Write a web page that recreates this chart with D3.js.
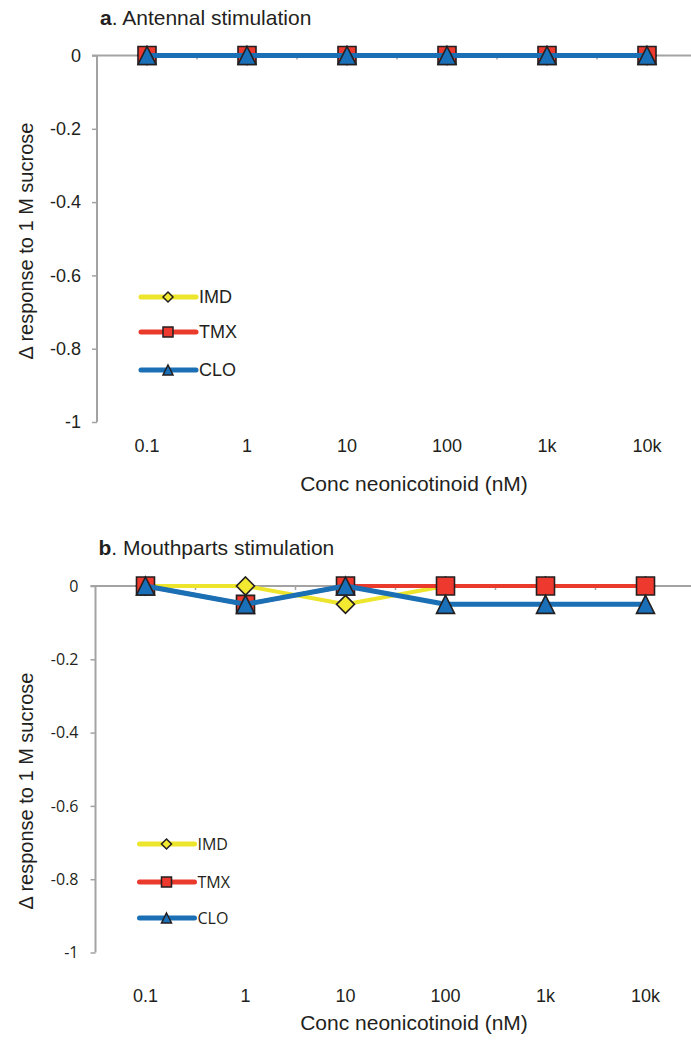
<!DOCTYPE html>
<html>
<head>
<meta charset="utf-8">
<script src="https://cdn.jsdelivr.net/npm/d3@7"></script>
<style>
  body { margin: 0; background: #fff; }
  svg { display: block; }
</style>
</head>
<body>
<svg id="chart" width="691" height="1044"></svg>
<script>
// Two panels: change in response to 1 M sucrose after neonicotinoid exposure.

const concentrations = ["0.1", "1", "10", "100", "1k", "10k"];
const yTicks = [0, -0.2, -0.4, -0.6, -0.8, -1];

// panel a: antennal stimulation
const antennalIMD = [0, 0, 0, 0, 0, 0];
const antennalTMX = [0, 0, 0, 0, 0, 0];
const antennalCLO = [0, 0, 0, 0, 0, 0];

// panel b: mouthparts stimulation
const mouthIMD = [0, 0, -0.05, 0, 0, 0];
const mouthTMX = [0, -0.05, 0, 0, 0, 0];
const mouthCLO = [0, -0.05, 0, -0.05, -0.05, -0.05];

const seriesNames = ["IMD", "TMX", "CLO"];

const styles = {
  IMD: { line: "#ede52b", fill: "#f3e930", width: 4, shape: "diamond" },
  TMX: { line: "#e93a2c", fill: "#ee3a2e", width: 4, shape: "square" },
  CLO: { line: "#1a6fb5", fill: "#1a70b8", width: 5, shape: "triangle" },
};

const svg = d3.select("#chart");
const axisColor = "#a3a3a3";
const markerStroke = "#231f20";
const arial = "Liberation Sans, Arial, sans-serif";

const drawMarker = (g, shape, x, y, size, fill) => {
  const h = size / 2;
  let path;
  if (shape === "square") {
    path = `M${x - h},${y - h}h${size}v${size}h${-size}Z`;
  } else if (shape === "diamond") {
    path = `M${x},${y - h}L${x + h},${y}L${x},${y + h}L${x - h},${y}Z`;
  } else {
    path = `M${x},${y - h}L${x + h},${y + h}L${x - h},${y + h}Z`;
  }
  g.append("path")
    .attr("d", path)
    .attr("fill", fill)
    .attr("stroke", markerStroke)
    .attr("stroke-width", size > 12 ? 1.6 : 1.5)
    .attr("stroke-linejoin", "miter");
};

const drawPanel = (cfg) => {
  const g = svg.append("g");

  const x = d3
    .scaleBand()
    .domain(concentrations)
    .range([cfg.left, cfg.left + 600])
    .paddingInner(0)
    .paddingOuter(0);

  const y = d3.scaleLinear().domain([-1, 0]).range([cfg.bottom, cfg.top]);

  // title
  const title = g
    .append("text")
    .attr("x", cfg.left + 3)
    .attr("y", cfg.top - 31)
    .attr("font-family", arial)
    .attr("font-size", 21)
    .attr("fill", "#231f20");
  title.append("tspan").attr("font-weight", "bold").text(cfg.letter);
  title.append("tspan").text(". " + cfg.title);

  // y axis
  const yAxis = d3
    .axisLeft(y)
    .tickValues(yTicks)
    .tickSize(5)
    .tickPadding(cfg.tickPad)
    .tickFormat((d) => String(d));

  const yg = g
    .append("g")
    .attr("transform", `translate(${cfg.left},0)`)
    .call(yAxis);
  yg.select(".domain").attr("stroke", axisColor).attr("stroke-width", 2)
    .attr("d", `M0,${cfg.top}V${cfg.bottom}`);
  yg.selectAll(".tick line").attr("stroke", axisColor).attr("stroke-width", 1.5);
  yg.selectAll(".tick text")
    .attr("font-family", cfg.tickFont)
    .attr("font-size", cfg.tickSize)
    .attr("fill", "#231f20");

  // category axis sitting on y = 0
  const xAxis = d3.axisBottom(x).tickSize(0).tickFormat("");
  const xg = g
    .append("g")
    .attr("transform", `translate(0,${y(0)})`)
    .call(xAxis);
  xg.select(".domain").attr("stroke", axisColor).attr("stroke-width", 2)
    .attr("d", `M${cfg.left - 5},0H${cfg.left + 600}`);
  xg.selectAll(".tick").remove();
  xg.selectAll(".cat-tick")
    .data(concentrations.slice(1))
    .enter()
    .append("line")
    .attr("class", "cat-tick")
    .attr("x1", (d) => x(d))
    .attr("x2", (d) => x(d))
    .attr("y1", 0)
    .attr("y2", 4)
    .attr("stroke", axisColor)
    .attr("stroke-width", 1.5);

  // category labels below the plot
  g.append("g")
    .selectAll("text")
    .data(concentrations)
    .enter()
    .append("text")
    .attr("x", (d) => x(d) + x.bandwidth() / 2)
    .attr("y", cfg.catLabelY)
    .attr("text-anchor", "middle")
    .attr("font-family", arial)
    .attr("font-size", 18)
    .attr("fill", "#231f20")
    .text((d) => d);

  // axis titles
  g.append("text")
    .attr("x", 414)
    .attr("y", cfg.xTitleY)
    .attr("text-anchor", "middle")
    .attr("font-family", arial)
    .attr("font-size", 21)
    .attr("fill", "#231f20")
    .text("Conc neonicotinoid (nM)");

  g.append("text")
    .attr("transform", `translate(33,${cfg.yTitleY}) rotate(-90)`)
    .attr("text-anchor", "middle")
    .attr("font-family", arial)
    .attr("font-size", 20)
    .attr("fill", "#231f20")
    .text("\u0394 response to 1 M sucrose");

  // series
  const line = d3
    .line()
    .x((d, i) => x(concentrations[i]) + x.bandwidth() / 2)
    .y((d) => y(d));

  cfg.series.forEach((values, k) => {
    const st = styles[seriesNames[k]];
    g.append("path")
      .datum(values)
      .attr("d", line)
      .attr("fill", "none")
      .attr("stroke", st.line)
      .attr("stroke-width", st.width)
      .attr("stroke-linejoin", "round");
    values.forEach((v, i) => {
      drawMarker(g, st.shape, x(concentrations[i]) + x.bandwidth() / 2, y(v), 18, st.fill);
    });
  });

  // legend
  seriesNames.forEach((name, k) => {
    const st = styles[name];
    const ly = cfg.legendY[k];
    g.append("line")
      .attr("x1", cfg.left + 44)
      .attr("x2", cfg.left + 99)
      .attr("y1", ly)
      .attr("y2", ly)
      .attr("stroke", st.line)
      .attr("stroke-width", 5)
      .attr("stroke-linecap", "round");
    drawMarker(g, st.shape, cfg.left + 71, ly, 10, st.fill);
    g.append("text")
      .attr("x", cfg.left + 102)
      .attr("y", ly)
      .attr("dy", "0.36em")
      .attr("font-family", cfg.legendFont)
      .attr("font-size", cfg.legendSize)
      .attr("fill", "#231f20")
      .text(name);
  });
};

drawPanel({
  letter: "a",
  title: "Antennal stimulation",
  left: 97,
  top: 55.5,
  bottom: 422,
  catLabelY: 452,
  xTitleY: 491,
  yTitleY: 241,
  legendY: [297, 332, 370],
  tickFont: arial,
  tickSize: 18,
  tickPad: 11,
  legendFont: arial,
  legendSize: 18,
  series: [antennalIMD, antennalTMX, antennalCLO],
});

drawPanel({
  letter: "b",
  title: "Mouthparts stimulation",
  left: 95.5,
  top: 586,
  bottom: 952.5,
  catLabelY: 1002,
  xTitleY: 1030,
  yTitleY: 791,
  legendY: [844, 882, 918],
  tickFont: "Open Sans, sans-serif",
  tickSize: 16,
  tickPad: 12,
  legendFont: "Open Sans, sans-serif",
  legendSize: 16,
  series: [mouthIMD, mouthTMX, mouthCLO],
});
</script>
</body>
</html>
